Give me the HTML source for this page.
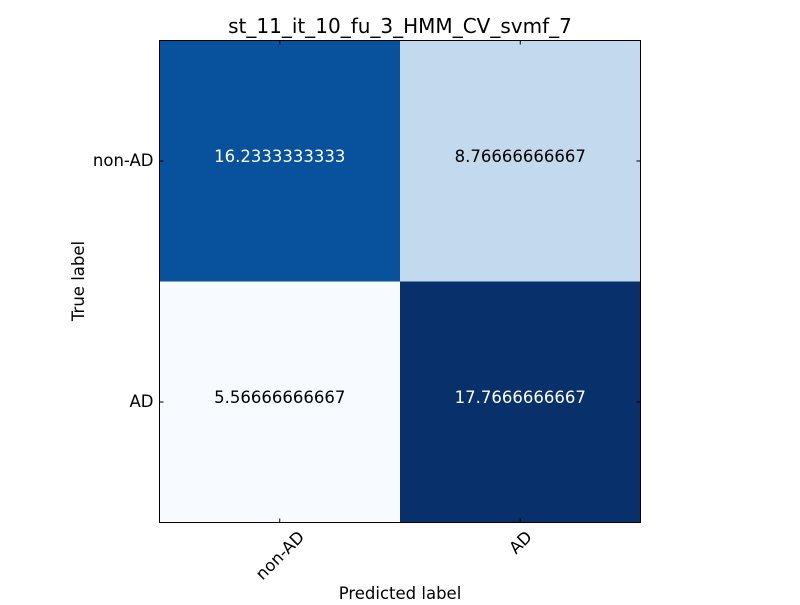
<!DOCTYPE html>
<html><head><meta charset="utf-8"><style>
body{margin:0;background:#fff;}
svg text{font-family:"DejaVu Sans","Liberation Sans",sans-serif;}
</style></head><body>
<svg id="chart" width="800" height="600">
<rect width="800" height="600" fill="#fff"/>
<text x="400" y="33" font-size="20" text-anchor="middle">st_11_it_10_fu_3_HMM_CV_svmf_7</text>
<g id="cells"></g>
<rect x="159.5" y="40.5" width="481" height="482" fill="none" stroke="#000" stroke-width="1"/>
<g id="ticks"></g>
<text x="400" y="599" font-size="16.5" text-anchor="middle">Predicted label</text>
<text transform="translate(84,281) rotate(-90)" font-size="16.5" text-anchor="middle">True label</text>
</svg>
<script>
const classes=["non-AD","AD"];
const row0=[16.2333333333,8.76666666667];
const row1=[5.56666666667,17.7666666667];
const labels0=["16.2333333333","8.76666666667"];
const labels1=["5.56666666667","17.7666666667"];
const values=[row0,row1], texts=[labels0,labels1];
const ns="http://www.w3.org/2000/svg";
const X0=159.5,Y0=40.5,W=481,H=482;
const n=classes.length, cw=W/n, ch=H/n;
const xPos=j=>X0+j*cw, yPos=i=>Y0+i*ch;
const stops=["#f7fbff","#deebf7","#c6dbef","#9ecae1","#6baed6","#4292c6","#2171b5","#08519c","#08306b"];
const all=values.flat(), vmin=Math.min(...all), vmax=Math.max(...all);
function hex(c){return [1,3,5].map(k=>parseInt(c.substr(k,2),16));}
function color(v){let t=(v-vmin)/(vmax-vmin)*(stops.length-1);let k=Math.min(Math.floor(t),stops.length-2),f=t-k;
const a=hex(stops[k]),b=hex(stops[k+1]);return `rgb(${a.map((x,i)=>Math.round(x+(b[i]-x)*f)).join(",")})`;}
const cells=document.getElementById("cells"), ticks=document.getElementById("ticks");
const thresh=vmax/2;
for(let i=0;i<n;i++)for(let j=0;j<n;j++){
const r=document.createElementNS(ns,"rect");
r.setAttribute("x",xPos(j));r.setAttribute("y",yPos(i));r.setAttribute("width",cw);r.setAttribute("height",ch);r.setAttribute("fill",color(values[i][j]));


cells.appendChild(r);
const t=document.createElementNS(ns,"text");
t.setAttribute("x",xPos(j)+cw/2);t.setAttribute("y",yPos(i)+ch/2+1);t.setAttribute("font-size","16.5");t.setAttribute("text-anchor","middle");
t.setAttribute("fill",values[i][j]>thresh?"#fff":"#000");t.textContent=texts[i][j];


cells.appendChild(t);}
function line(x1,y1,x2,y2){const l=document.createElementNS(ns,"line");l.setAttribute("x1",x1);l.setAttribute("y1",y1);l.setAttribute("x2",x2);l.setAttribute("y2",y2);l.setAttribute("stroke","#000");


ticks.appendChild(l);}
for(let k=0;k<n;k++){
const cx=xPos(k)+cw/2, cy=yPos(k)+ch/2;
line(cx,Y0,cx,Y0+4);line(cx,Y0+H,cx,Y0+H-4);
line(X0,cy,X0+4,cy);line(X0+W,cy,X0+W-4,cy);
const xl=document.createElementNS(ns,"text");
xl.setAttribute("text-anchor","middle");xl.setAttribute("font-size","16.5");xl.textContent=classes[k];


ticks.appendChild(xl);
const w=xl.getComputedTextLength();
const mid=529+(w+13)*0.3536;
xl.setAttribute("x",cx);xl.setAttribute("y",mid+6);
xl.setAttribute("transform",`rotate(-45 ${cx} ${mid})`);
const yl=document.createElementNS(ns,"text");
yl.setAttribute("x",X0-6);yl.setAttribute("y",cy+5);yl.setAttribute("text-anchor","end");yl.setAttribute("font-size","16.5");yl.textContent=classes[k];


ticks.appendChild(yl);}
</script>
</body></html>
